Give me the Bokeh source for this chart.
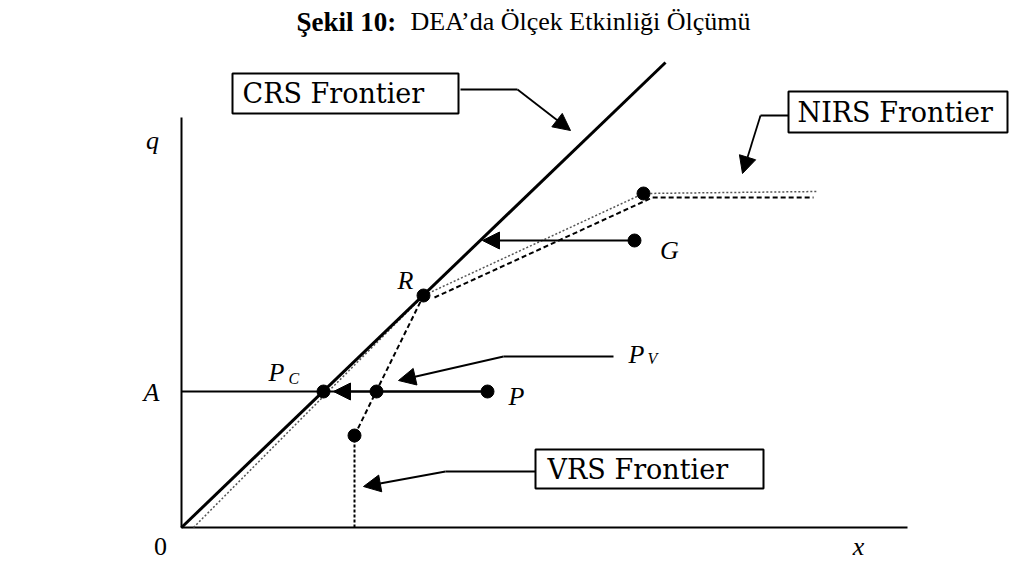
from bokeh.plotting import figure
from bokeh.models import Arrow, NormalHead
from bokeh.core.properties import value
from bokeh.embed import file_html
from bokeh.resources import INLINE

# ---- diagram data (x = input, q = output) ----
axis_x = [0.0, 0.0, 72.6]
axis_y = [41.0, 0.0, 0.0]

crs_x = [0.0, 48.4]
crs_y = [0.0, 46.5]

nirs_dot_x = [1.2, 24.2, 46.2, 63.6]
nirs_dot_y = [0.0, 23.2, 33.4, 33.6]
nirs_dash_x = [25.3, 47.1, 63.2]
nirs_dash_y = [23.0, 33.0, 33.0]

vrs_vert_x = [17.3, 17.3]
vrs_vert_y = [0.0, 9.2]
vrs_seg_x = [17.3, 24.2]
vrs_seg_y = [9.2, 23.2]

a_line_x = [0.0, 30.6]
a_line_y = [13.6, 13.6]

pt_names = ["Pc", "Pv", "P", "R", "G", "N", "V"]
pt_x = [14.2, 19.5, 30.6, 24.2, 45.3, 46.2, 17.3]
pt_y = [13.6, 13.6, 13.6, 23.2, 28.7, 33.4, 9.2]

# boxes: left, right, top, bottom
box_labels = ["CRS Frontier", "NIRS Frontier", "VRS Frontier"]
box_left = [5.1, 60.7, 35.4]
box_right = [27.7, 82.6, 58.2]
box_top = [45.4, 43.6, 7.8]
box_bottom = [41.4, 39.5, 3.9]
box_text_x = [6.1, 61.6, 36.6]
box_text_y = [43.4, 41.5, 5.8]

# leader lines (polyline elbow) and arrow tips
leader_x = [[27.9, 33.6], [60.7, 57.9], [35.4, 26.4], [43.2, 32.2]]
leader_y = [[43.8, 43.8], [41.2, 41.2], [5.6, 5.6], [17.1, 17.1]]
tip_x = [38.9, 56.1, 18.2, 21.7]
tip_y = [39.7, 35.4, 4.1, 14.7]

# horizontal projection arrows
proj_start_x = [45.3, 30.6]
proj_start_y = [28.7, 13.6]
proj_end_x = [30.1, 15.2]
proj_end_y = [28.7, 13.6]

# italic variable labels
var_text = ["q", "A", "R", "G", "P", "x"]
var_x = [-2.9, -3.0, 22.4, 48.8, 33.5, 67.7]
var_y = [38.7, 13.5, 24.7, 27.7, 13.1, -1.9]

zero_x = [-2.1]
zero_y = [-1.9]

sub_main_x = [8.7, 44.7]
sub_main_y = [15.5, 17.3]
sub_text = ["C", "V"]
sub_x = [10.7, 46.6]
sub_y = [14.9, 16.9]

title_bold = "Şekil 10:"
title_rest = "DEA’da Ölçek Etkinliği Ölçümü"
title_bold_x, title_rest_x, title_y = 11.5, 22.9, 50.6

p = figure(width=1017, height=562, x_range=(-18.1, 83.6), y_range=(-3.5, 52.7),
           output_backend="svg", toolbar_location=None, min_border=0,
           x_axis_location=None, y_axis_location=None)
p.grid.visible = False
p.outline_line_color = None
p.background_fill_color = "white"

serif = value("Liberation Serif")
box_font = value("DejaVu Serif")

# axes
p.line(axis_x, axis_y, line_color="black", line_width=2)
# frontiers
p.line(nirs_dot_x, nirs_dot_y, line_color="#555555", line_width=1.5, line_dash="2 2")
p.line(nirs_dash_x, nirs_dash_y, line_color="black", line_width=2, line_dash="5 3")
p.line(vrs_vert_x, vrs_vert_y, line_color="black", line_width=2, line_dash="3 2")
p.line(vrs_seg_x, vrs_seg_y, line_color="black", line_width=2, line_dash="5 3")
p.line(crs_x, crs_y, line_color="black", line_width=3)
p.line(a_line_x, a_line_y, line_color="black", line_width=1.8)

# projection arrows
for xs, ys, xe, ye in zip(proj_start_x, proj_start_y, proj_end_x, proj_end_y):
    p.add_layout(Arrow(end=NormalHead(size=17, fill_color="black", line_color="black"),
                       x_start=xs, y_start=ys, x_end=xe, y_end=ye,
                       line_color="black", line_width=1.8))

# points
p.scatter(pt_x, pt_y, size=13, color="black")

# boxes
p.quad(left=box_left, right=box_right, top=box_top, bottom=box_bottom,
       fill_color="white", line_color="black", line_width=2)
p.text(box_text_x, box_text_y, text=box_labels, text_font=box_font,
       text_font_size="27px", text_align="left", text_baseline="middle",
       text_color="black")

# leader lines
p.multi_line(leader_x, leader_y, line_color="black", line_width=1.8)
for lx, ly, tx, ty in zip(leader_x, leader_y, tip_x, tip_y):
    p.add_layout(Arrow(end=NormalHead(size=17, fill_color="black", line_color="black"),
                       x_start=lx[1], y_start=ly[1], x_end=tx, y_end=ty,
                       line_color="black", line_width=1.8))

# variable labels
p.text(var_x, var_y, text=var_text, text_font=serif, text_font_size="26px",
       text_font_style="italic", text_align="center", text_baseline="middle")
p.text(zero_x, zero_y, text=["0"], text_font=serif, text_font_size="26px",
       text_align="center", text_baseline="middle")
p.text(sub_main_x, sub_main_y, text=["P", "P"], text_font=serif, text_font_size="26px",
       text_font_style="italic", text_align="left", text_baseline="middle")
p.text(sub_x, sub_y, text=sub_text, text_font=serif, text_font_size="16px",
       text_font_style="italic", text_align="left", text_baseline="middle")

# title
p.text([title_bold_x], [title_y], text=[title_bold], text_font=serif, text_font_size="27px",
       text_font_style="bold", text_align="left", text_baseline="middle")
p.text([title_rest_x], [title_y], text=[title_rest], text_font=serif, text_font_size="26px",
       text_align="left", text_baseline="middle")

open("out.html", "w").write(file_html(p, INLINE))
